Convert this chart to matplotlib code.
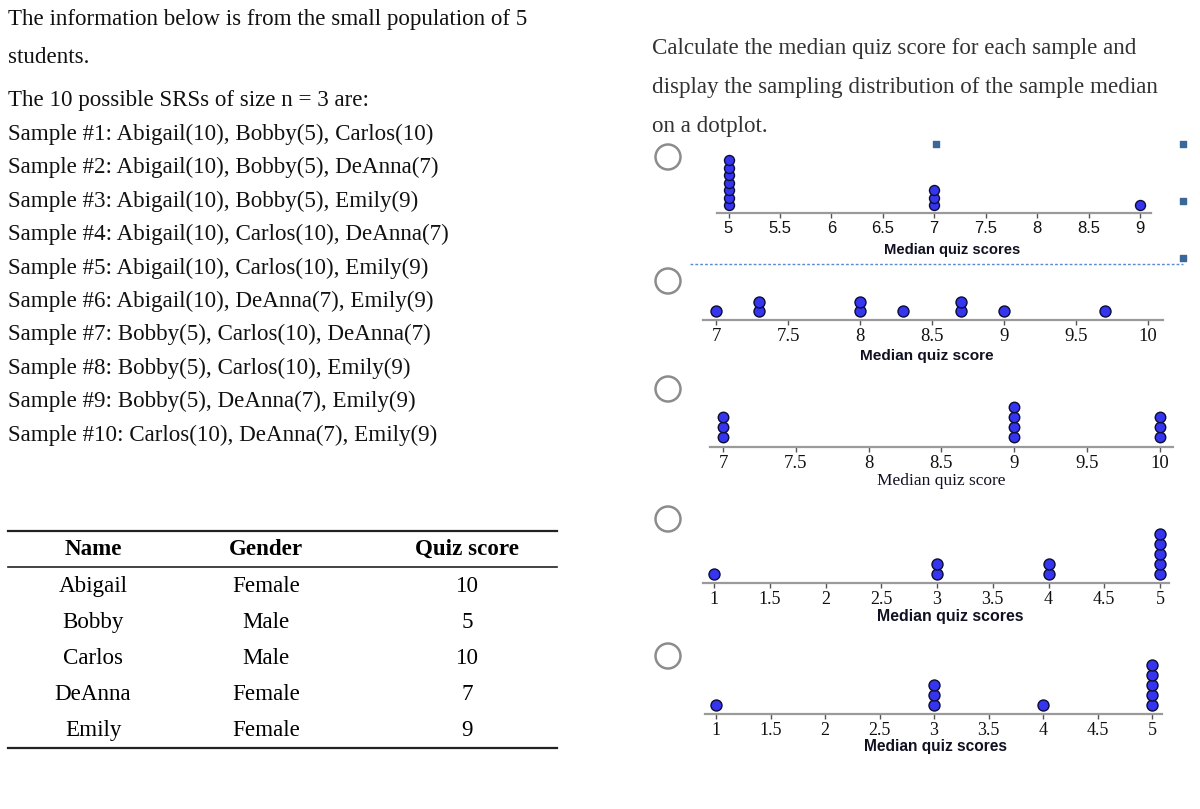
import numpy as np
import matplotlib
matplotlib.use("Agg")
import matplotlib.pyplot as plt
from matplotlib.patches import Circle

W, H = 1200, 809
SERIF = "Liberation Serif"
SANS = "Liberation Sans"
FS = 16.6

intro_lines = ["The information below is from the small population of 5",
               "students."]
srs_title = "The 10 possible SRSs of size n = 3 are:"
samples = ["Sample #1: Abigail(10), Bobby(5), Carlos(10)",
           "Sample #2: Abigail(10), Bobby(5), DeAnna(7)",
           "Sample #3: Abigail(10), Bobby(5), Emily(9)",
           "Sample #4: Abigail(10), Carlos(10), DeAnna(7)",
           "Sample #5: Abigail(10), Carlos(10), Emily(9)",
           "Sample #6: Abigail(10), DeAnna(7), Emily(9)",
           "Sample #7: Bobby(5), Carlos(10), DeAnna(7)",
           "Sample #8: Bobby(5), Carlos(10), Emily(9)",
           "Sample #9: Bobby(5), DeAnna(7), Emily(9)",
           "Sample #10: Carlos(10), DeAnna(7), Emily(9)"]
question_lines = ["Calculate the median quiz score for each sample and",
                  "display the sampling distribution of the sample median",
                  "on a dotplot."]

table_header = ["Name", "Gender", "Quiz score"]
names = ["Abigail", "Bobby", "Carlos", "DeAnna", "Emily"]
genders = ["Female", "Male", "Male", "Female", "Female"]
scores = [10, 5, 10, 7, 9]

# dotplot options: median value and number of dots stacked on it
p1_values = [5, 7, 9]
p1_counts = [7, 3, 1]
p2_values = [7, 7.3, 8, 8.3, 8.7, 9, 9.7]
p2_counts = [1, 2, 2, 1, 2, 1, 1]
p3_values = [7, 9, 10]
p3_counts = [3, 4, 3]
p4_values = [1, 3, 4, 5]
p4_counts = [1, 2, 2, 5]
p5_values = [1, 3, 4, 5]
p5_counts = [1, 3, 1, 5]

p1_ticks = [5, 5.5, 6, 6.5, 7, 7.5, 8, 8.5, 9]
p23_ticks = [7, 7.5, 8, 8.5, 9, 9.5, 10]
p45_ticks = [1, 1.5, 2, 2.5, 3, 3.5, 4, 4.5, 5]

fig = plt.figure(figsize=(12, 8.09), dpi=100)
bg = fig.add_axes([0, 0, 1, 1])
bg.set_xlim(0, W)
bg.set_ylim(H, 0)
bg.axis("off")

# left column text
txt = dict(family=SERIF, fontsize=FS, color="#111111", va="baseline")
bg.text(8, 25, intro_lines[0], **txt)
bg.text(8, 63, intro_lines[1], **txt)
bg.text(8, 106, srs_title, **txt)
for i, s in enumerate(samples):
    bg.text(8, 140 + 33.4 * i, s, **txt)

# question text
for i, s in enumerate(question_lines):
    bg.text(652, 54 + 39 * i, s, family=SERIF, fontsize=FS, color="#333333", va="baseline")

# table
col_x = [93, 266, 467]
bg.plot([8, 557], [531, 531], color="#222222", lw=1.6)
bg.plot([8, 557], [567, 567], color="#222222", lw=1.2)
bg.plot([8, 557], [748, 748], color="#222222", lw=1.6)
for x, h in zip(col_x, table_header):
    bg.text(x, 555, h, family=SERIF, fontsize=FS, fontweight="bold", ha="center", va="baseline")
for r, row in enumerate(zip(names, genders, scores)):
    for x, v in zip(col_x, row):
        bg.text(x, 592 + 36 * r, str(v), family=SERIF, fontsize=FS, ha="center", va="baseline")

# radio buttons
for cy in [157, 281, 389, 519, 656]:
    bg.add_patch(Circle((668, cy), 12.5, fill=False, ec="#8c8c8c", lw=1.8))

# separator and handles around the first option
bg.plot([690, 1183], [264, 264], ls=(0, (2, 1.5)), color="#5a8ad0", lw=1)
bg.scatter([936, 1183, 1183, 1183], [144, 144, 201, 258], marker="s", s=14, color="#3a6797")


def fmt(v):
    return f"{v:g}"


def dotplot(values, counts, ticks, tick_px, line_px, line_y, tick_font, tick_size,
            label, label_xy, label_font, label_size, label_weight, base, step, dot_d, pad):
    (va_, pa), (vb, pb) = tick_px
    scale = (pb - pa) / (vb - va_)
    L, R = line_px
    hgt = 80
    ax = fig.add_axes([L / W, 1 - line_y / H, (R - L) / W, hgt / H])
    ax.set_xlim(va_ + (L - pa) / scale, va_ + (R - pa) / scale)
    ax.set_ylim(0, hgt)
    ax.patch.set_alpha(0)
    for sp in ["top", "left", "right"]:
        ax.spines[sp].set_visible(False)
    ax.spines["bottom"].set_color("#9a9a9a")
    ax.spines["bottom"].set_linewidth(1.6)
    ax.set_yticks([])
    ax.set_xticks(ticks)
    ax.set_xticklabels([fmt(t) for t in ticks], family=tick_font, fontsize=tick_size)
    ax.tick_params(axis="x", direction="out", length=3.5, width=1, color="#555555",
                   pad=pad, labelcolor="#111111")
    xs, ys = [], []
    for v, c in zip(values, counts):
        xs += [v] * c
        ys += list(base + step * np.arange(c))
    ax.scatter(xs, ys, s=(dot_d * 0.72) ** 2, facecolor="#3535f0", edgecolor="#0c0c35",
               lw=1, clip_on=False, zorder=3)
    bg.text(label_xy[0], label_xy[1], label, family=label_font, fontsize=label_size,
            fontweight=label_weight, color="#111122", ha="center", va="center")


dotplot(p1_values, p1_counts, p1_ticks, ((5, 728.5), (9, 1140)), (717, 1151), 213,
        SANS, 12, "Median quiz scores", (952, 250), SANS, 10.6, "bold", 8, 7.5, 10, 2)
dotplot(p2_values, p2_counts, p23_ticks, ((7, 716), (10, 1148)), (703, 1163), 320,
        SERIF, 13.5, "Median quiz score", (927, 356), SANS, 11.1, "bold", 9, 9.5, 11, 2)
dotplot(p3_values, p3_counts, p23_ticks, ((7, 723), (10, 1160)), (710, 1173), 447,
        SERIF, 13.5, "Median quiz score", (941, 481), SERIF, 12.5, "normal", 10, 10, 10.5, 2)
dotplot(p4_values, p4_counts, p45_ticks, ((1, 714), (5, 1160)), (703, 1169), 583,
        SERIF, 13, "Median quiz scores", (950, 616), SANS, 11.4, "bold", 9.5, 10, 11, 2.5)
dotplot(p5_values, p5_counts, p45_ticks, ((1, 716), (5, 1152)), (705, 1162), 714,
        SERIF, 13, "Median quiz scores", (936, 746), SANS, 11.2, "bold", 9, 10, 11, 2.5)

fig.savefig("out.png", dpi=100)
